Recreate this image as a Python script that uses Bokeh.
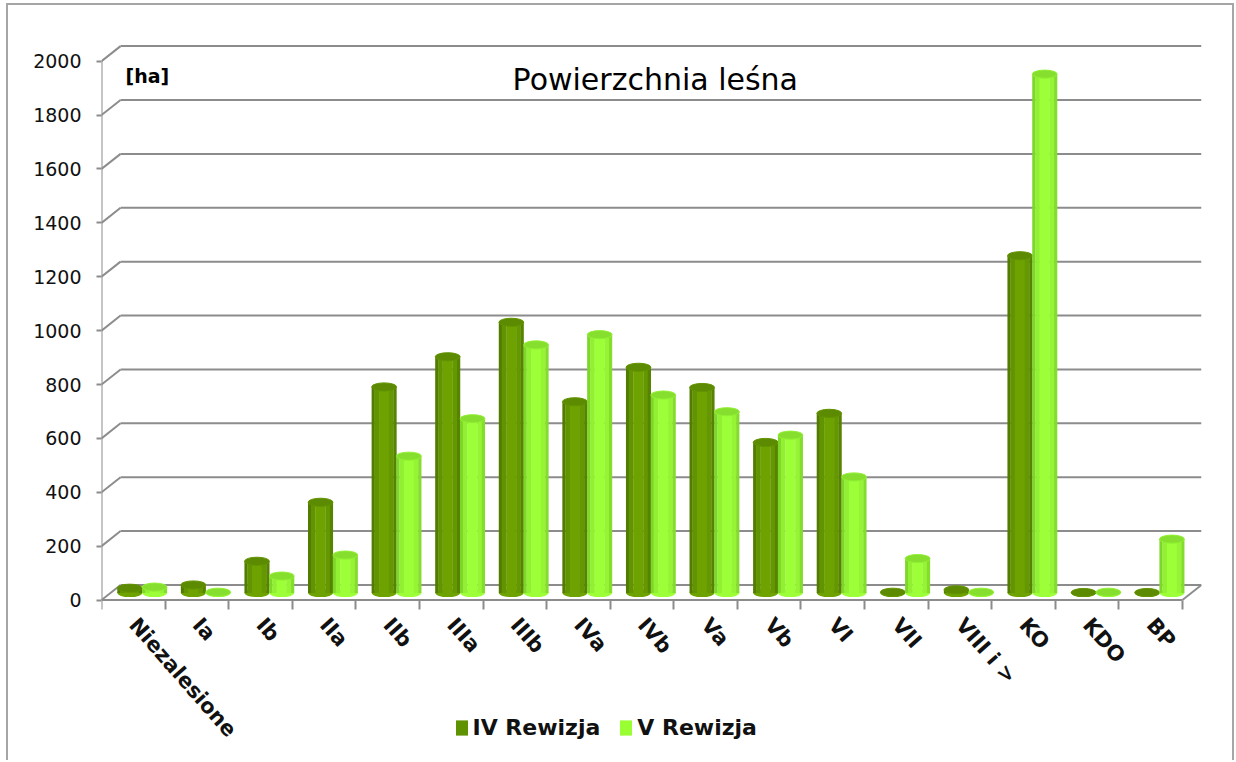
from bokeh.plotting import figure
from bokeh.models import (Range1d, FixedTicker, Label, Legend, LegendItem)
from bokeh.embed import file_html
from bokeh.resources import INLINE

# ---------------- data ----------------
categories = ["Niezalesione", "Ia", "Ib", "IIa", "IIb", "IIIa", "IIIb", "IVa", "IVb",
              "Va", "Vb", "VI", "VII", "VIII i >", "KO", "KDO", "BP"]
rew_iv = [18, 30, 118, 337, 765, 877, 1005, 710, 838, 763, 559, 667, 3, 12, 1252, 2, 2]
rew_v = [22, 3, 63, 141, 508, 647, 921, 959, 735, 673, 586, 431, 128, 3, 1926, 3, 200]
series_names = ["IV Rewizja", "V Rewizja"]
y_ticks = [0, 200, 400, 600, 800, 1000, 1200, 1400, 1600, 1800, 2000]
title_text = "Powierzchnia leśna"
unit_text = "[ha]"

# ---------------- styling constants ----------------
FONT = "DejaVu Sans"
N = len(categories)
DX = 0.30      # 3D depth offset (category units)
DY = 56.0      # 3D depth offset (value units)
BASE = 26.0    # bar base (middle depth)
BAR_W = 0.39
ELL_H = 30.0
X_END = 17.3
Y_START = -603   # room below the floor for the category labels and legend
Y_END = 2062

p = figure(width=1228, height=757, x_range=Range1d(0, X_END), y_range=Range1d(Y_START, Y_END),
           toolbar_location=None, output_backend="svg",
           min_border_left=93, min_border_right=35, min_border_top=39, min_border_bottom=0)
p.styles = {"margin-left": "6px", "margin-top": "3px",
            "border-top": "2px solid #a6a6a6", "border-left": "2px solid #a6a6a6",
            "border-right": "2px solid #a6a6a6"}
p.outline_line_color = None
p.background_fill_color = "white"
p.border_fill_color = "white"
p.xgrid.visible = False
p.ygrid.visible = False

# ---------------- 3D walls / gridlines ----------------
gx0 = [0.0 for t in y_ticks] + [DX for t in y_ticks]
gy0 = [float(t) for t in y_ticks] + [t + DY for t in y_ticks]
gx1 = [DX for t in y_ticks] + [X_END for t in y_ticks]
gy1 = [t + DY for t in y_ticks] + [t + DY for t in y_ticks]
p.segment(x0=gx0, y0=gy0, x1=gx1, y1=gy1, line_color="#8c8c8c", line_width=2)
# front axis line and floor edges
p.segment(x0=[0, 0, N], y0=[0, 0, 0], x1=[0, N, N + DX], y1=[y_ticks[-1], 0, DY],
          line_color="#8c8c8c", line_width=2)

# ---------------- cylinders ----------------
stripes = [(0.00, 0.12), (0.12, 0.30), (0.30, 0.70), (0.70, 0.88), (0.88, 1.00)]
colors = {
    0: ["#527c00", "#629300", "#6da200", "#659800", "#578400"],
    1: ["#7fd62a", "#91f032", "#9cff38", "#95f534", "#84dc2c"],
}
legend_colors = {0: "#5f9200", 1: "#99ff33"}
top_colors = {0: "#5c8a00", 1: "#86de2e"}
offsets = {0: -0.055, 1: 0.335}

legend_renderers = []
for s, vals in enumerate([rew_iv, rew_v]):
    centers = [i + 0.5 + offsets[s] for i in range(N)]
    tops = [BASE + v for v in vals]
    bases = [BASE for v in vals]
    p.ellipse(x=centers, y=bases, width=BAR_W, height=ELL_H, fill_color=colors[s][2],
              line_color=None)
    for k, (f0, f1) in enumerate(stripes):
        lefts = [c - BAR_W / 2 + BAR_W * f0 - 0.002 for c in centers]
        rights = [c - BAR_W / 2 + BAR_W * f1 + 0.002 for c in centers]
        p.quad(left=lefts, right=rights, top=tops, bottom=bases,
               fill_color=colors[s][k], line_color=None)
    p.ellipse(x=centers, y=tops, width=BAR_W, height=ELL_H, fill_color=top_colors[s],
              line_color=colors[s][1], line_width=1)
    # legend swatch renderer (zero-size quad, shown only in the legend)
    legend_renderers.append(p.quad(left=[centers[0]], right=[centers[0]], top=[BASE], bottom=[BASE],
                                   fill_color=legend_colors[s], line_color=None))

# ---------------- axes ----------------
xa = p.xaxis[0]
xa.fixed_location = 0
xa.ticker = FixedTicker(ticks=[i + 0.5 for i in range(N)], minor_ticks=list(range(N + 1)))
xa.major_label_overrides = {i + 0.5: c for i, c in enumerate(categories)}
xa.major_label_orientation = -0.85
xa.major_tick_line_color = None
xa.major_tick_out = 0
xa.major_tick_in = 0
xa.minor_tick_line_color = "#8c8c8c"
xa.minor_tick_line_width = 2
xa.minor_tick_out = 9
xa.minor_tick_in = 0
xa.axis_line_color = None
xa.major_label_standoff = 12
xa.major_label_text_font = FONT
xa.major_label_text_font_style = "bold"
xa.major_label_text_font_size = "21px"
xa.major_label_text_color = "#111111"

ya = p.yaxis[0]
ya.ticker = FixedTicker(ticks=y_ticks)
ya.axis_line_color = None
ya.major_tick_line_color = "#8c8c8c"
ya.major_tick_line_width = 2
ya.major_tick_out = 5
ya.major_tick_in = 0
ya.minor_tick_line_color = None
ya.major_label_standoff = 15
ya.major_label_text_font = FONT
ya.major_label_text_font_size = "19px"
ya.major_label_text_color = "#111111"

# ---------------- texts ----------------
p.add_layout(Label(x=8.71, y=1931, text=title_text,
                   text_align="center", text_baseline="alphabetic", text_font=FONT,
                   text_font_size="30px", text_color="#000000"))
p.add_layout(Label(x=0.377, y=1946, text=unit_text,
                   text_align="left", text_baseline="alphabetic", text_font=FONT,
                   text_font_style="bold", text_font_size="19px", text_color="#000000"))

legend = Legend(items=[LegendItem(label=series_names[0], renderers=[legend_renderers[0]]),
                       LegendItem(label=series_names[1], renderers=[legend_renderers[1]])],
                location=(352.5, 22), orientation="horizontal",
                glyph_width=15, glyph_height=19, label_standoff=4, spacing=18,
                padding=0, margin=0, border_line_color=None, background_fill_alpha=0,
                label_text_font=FONT, label_text_font_style="bold",
                label_text_font_size="22px", label_text_color="#111111")
p.add_layout(legend)

open("out.html", "w").write(file_html(p, INLINE))
